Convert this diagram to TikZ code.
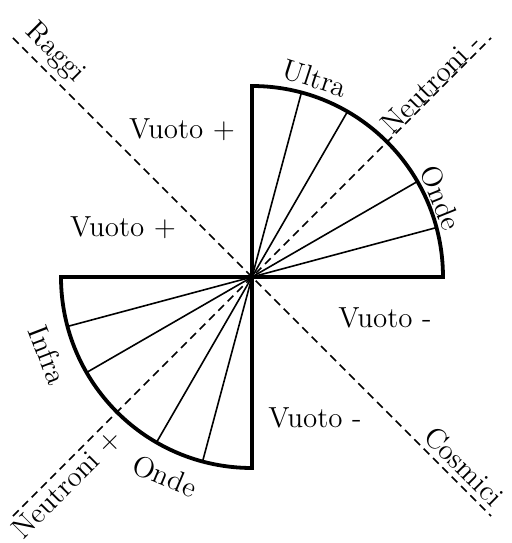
\documentclass[tikz,border=0pt]{standalone}
\begin{document}
\begin{tikzpicture}[x=0.5pt,y=0.5pt,
  boldline/.style={line width=1.9pt,line join=miter},
  ray/.style={line width=0.8pt},
  dashline/.style={line width=0.85pt,dash pattern=on 4pt off 2.6pt},
  lbl/.style={inner sep=0pt,font=\fontsize{14.5}{17}\selectfont}]
\useasboundingbox (0,0) rectangle (512,543);
\begin{scope}[shift={(252,266)}]
  \coordinate (C) at (0,0);
  \coordinate (DUL) at (135:338);
  \coordinate (DLR) at (-45:338);
  \coordinate (DLL) at (225:338);
  \coordinate (DUR) at (45:338);
  % sectors
  \foreach \a in {15,30,60,75} \draw[ray] (C) -- (\a:191);
  \foreach \a in {195,210,240,255} \draw[ray] (C) -- (\a:191);
  \draw[dashline] (DUL) -- (DLR);
  \draw[dashline] (DLL) -- (DUR);
  \draw[boldline] (C) -- (191,0) arc[start angle=0,end angle=90,radius=191] -- cycle;
  \draw[boldline] (C) -- (-191,0) arc[start angle=180,end angle=270,radius=191] -- cycle;
\end{scope}
% labels
\node[lbl,rotate=-45] (raggi) at (55,490) {Raggi};
\node[lbl,rotate=-45] (cosmici) at (464,77) {Cosmici};
\node[lbl,rotate=45] (neutm) at (431,460) {Neutroni -};
\node[lbl,rotate=45] (neutp) at (67,59) {Neutroni +};
\node[lbl,rotate=-18] (ultra) at (315,465) {Ultra};
\node[lbl,rotate=-68] (onde1) at (441,345) {Onde};
\node[lbl,rotate=-69] (infra) at (48,188) {Infra};
\node[lbl,rotate=-23] (onde2) at (165,67) {Onde};
\node[lbl] (vp1) at (182,413) {Vuoto +};
\node[lbl] (vp2) at (123,315) {Vuoto +};
\node[lbl] (vm1) at (385,225) {Vuoto -};
\node[lbl] (vm2) at (315,125) {Vuoto -};
\end{tikzpicture}
\end{document}
